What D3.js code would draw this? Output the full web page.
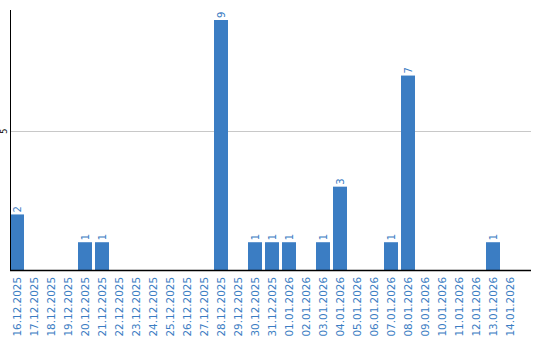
<!DOCTYPE html>
<html>
<head>
<meta charset="utf-8">
<script src="https://cdn.jsdelivr.net/npm/d3@7"></script>
<style>
    body { margin: 0; background: #fff; }
    svg { display: block; font-family: "DejaVu Sans", Verdana, sans-serif; }
</style>
</head>
<body>
<div id="chart"></div>
<script>
// dates (x categories) and daily counts
const dates = [
    "16.12.2025", "17.12.2025", "18.12.2025", "19.12.2025", "20.12.2025",
    "21.12.2025", "22.12.2025", "23.12.2025", "24.12.2025", "25.12.2025",
    "26.12.2025", "27.12.2025", "28.12.2025", "29.12.2025", "30.12.2025",
    "31.12.2025", "01.01.2026", "02.01.2026", "03.01.2026", "04.01.2026",
    "05.01.2026", "06.01.2026", "07.01.2026", "08.01.2026", "09.01.2026",
    "10.01.2026", "11.01.2026", "12.01.2026", "13.01.2026", "14.01.2026"
];
const counts = [2, 0, 0, 0, 1, 1, 0, 0, 0, 0, 0, 0, 9, 0, 1, 1, 1, 0, 1, 3, 0, 0, 1, 7, 0, 0, 0, 0, 1, 0];
const yTicks = [5];

const width = 540, height = 340;
const margin = {top: 10, right: 9, bottom: 70, left: 10};
const blue = "#3b7dc3";

const svg = d3.select("#chart").append("svg")
    .attr("width", width)
    .attr("height", height);

// band scale: 17px step, 14px bars
const x = d3.scaleBand()
    .domain(dates)
    .range([margin.left, margin.left + dates.length * 17])
    .paddingInner(3 / 17)
    .paddingOuter(1.5 / 17)
    .align(0);

const y = d3.scaleLinear()
    .domain([0, 9.36])
    .range([height - margin.bottom, margin.top]);

// grid line(s)
svg.append("g")
    .selectAll("line")
    .data(yTicks)
    .join("line")
    .attr("x1", margin.left)
    .attr("x2", width - margin.right)
    .attr("y1", d => Math.round(y(d)) + 0.5)
    .attr("y2", d => Math.round(y(d)) + 0.5)
    .attr("stroke", "#c8c8c8")
    .attr("stroke-width", 1);

// y tick labels, rotated
svg.append("g")
    .selectAll("text")
    .data(yTicks)
    .join("text")
    .attr("transform", d => `translate(7, ${y(d)}) rotate(-90)`)
    .attr("text-anchor", "middle")
    .attr("font-size", 8)
    .attr("fill", "#000")
    .text(d => d);

// bars
svg.append("g")
    .selectAll("rect")
    .data(counts)
    .join("rect")
    .attr("x", (d, i) => x(dates[i]))
    .attr("y", d => y(d))
    .attr("width", x.bandwidth())
    .attr("height", d => y(0) - y(d))
    .attr("fill", blue);

// value labels above bars
svg.append("g")
    .selectAll("text")
    .data(counts.map((d, i) => ({v: d, date: dates[i]})).filter(d => d.v > 0))
    .join("text")
    .attr("transform", d => `translate(${x(d.date) + x.bandwidth() / 2 + 3.5}, ${y(d.v) - 2}) rotate(-90)`)
    .attr("text-anchor", "start")
    .attr("font-size", 10)
    .attr("fill", blue)
    .text(d => d.v);

// axes lines
svg.append("line")
    .attr("x1", margin.left + 0.5)
    .attr("x2", margin.left + 0.5)
    .attr("y1", margin.top)
    .attr("y2", y(0))
    .attr("stroke", "#000");

svg.append("line")
    .attr("x1", margin.left)
    .attr("x2", width - margin.right)
    .attr("y1", y(0) + 0.5)
    .attr("y2", y(0) + 0.5)
    .attr("stroke", "#000")
    .attr("stroke-width", 1.5);

// x labels, rotated
svg.append("g")
    .selectAll("text")
    .data(dates)
    .join("text")
    .attr("transform", d => `translate(${x(d) + x.bandwidth() / 2 + 4}, ${y(0) + 7}) rotate(-90)`)
    .attr("text-anchor", "end")
    .attr("font-size", 10.4)
    .attr("fill", blue)
    .text(d => d);
</script>
</body>
</html>
